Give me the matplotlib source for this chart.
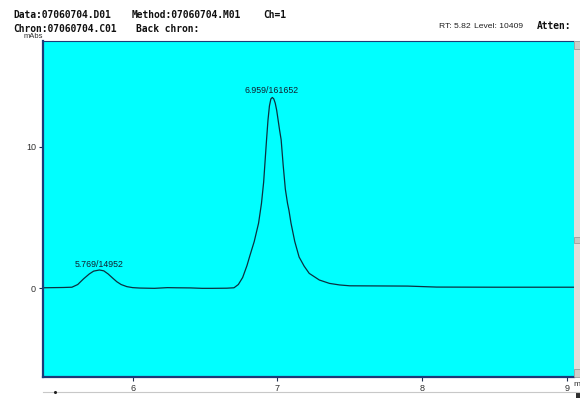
import matplotlib
matplotlib.use("Agg")
import matplotlib.pyplot as plt
from matplotlib.patches import Rectangle
from matplotlib.lines import Line2D

# ---- data ----
time_min = [5.38, 5.45, 5.52, 5.58, 5.62, 5.66, 5.70, 5.73, 5.77, 5.80, 5.83, 5.86,
            5.89, 5.92, 5.96, 6.00, 6.05, 6.15, 6.24, 6.30, 6.40, 6.48, 6.55, 6.65,
            6.70, 6.73, 6.76, 6.79, 6.81, 6.84, 6.87, 6.89, 6.905, 6.915, 6.925, 6.935,
            6.945, 6.955, 6.965, 6.975, 6.985, 6.995, 7.005, 7.015, 7.026, 7.04, 7.055,
            7.07, 7.08, 7.094, 7.12, 7.15, 7.185, 7.22, 7.29, 7.36,
            7.43, 7.50, 7.70, 7.90, 8.10, 8.50, 9.05]
signal_mabs = [0.02, 0.03, 0.04, 0.06, 0.25, 0.65, 1.00, 1.20, 1.28, 1.22, 1.00, 0.72,
               0.45, 0.25, 0.10, 0.03, 0.00, -0.02, 0.03, 0.02, 0.01, -0.02, -0.02, -0.01,
               0.02, 0.25, 0.75, 1.60, 2.30, 3.30, 4.60, 6.00, 7.50, 9.00, 10.5, 11.9,
               12.9, 13.4, 13.5, 13.4, 13.1, 12.6, 11.9, 11.2, 10.5, 8.70, 7.00,
               6.00, 5.50, 4.60, 3.30, 2.20, 1.55, 1.04, 0.57, 0.33,
               0.22, 0.16, 0.15, 0.14, 0.07, 0.06, 0.06]

peak_rt = [5.769, 6.959]
peak_label = ["5.769/14952", "6.959/161652"]
peak_label_y = [1.38, 13.65]

x_ticks = [6, 7, 8, 9]
y_ticks = [0, 10]

W, H = 580, 401
fig = plt.figure(figsize=(W / 100, H / 100), dpi=100)
fig.patch.set_facecolor("white")

ax = fig.add_axes([43 / W, 1 - 377 / H, (574 - 43) / W, (377 - 41) / H])
ax.set_facecolor("#00ffff")
ax.plot(time_min, signal_mabs, color="#0b3040", lw=0.9)
ax.set_xlim(5.38, 9.05)
ax.set_ylim(-6.3, 17.5)

for rt, lab, ly in zip(peak_rt, peak_label, peak_label_y):
    ax.text(rt, ly, lab, ha="center", va="bottom", fontsize=6.3,
            color="#102030", family="Liberation Sans")

ax.set_xticks(x_ticks)
ax.set_yticks(y_ticks)
ax.set_xticklabels([str(t) for t in x_ticks])
ax.set_yticklabels([str(t) for t in y_ticks])
ax.tick_params(axis="both", direction="out", length=3, width=0.8, color="#203050",
               labelsize=6.5, labelcolor="#303030", pad=2)
for lab in ax.get_xticklabels() + ax.get_yticklabels():
    lab.set_family("Liberation Sans")
for side in ["left", "bottom"]:
    ax.spines[side].set_color("#1d3a78")
    ax.spines[side].set_linewidth(1.6)
for side in ["top", "right"]:
    ax.spines[side].set_color("#1d3a78")
    ax.spines[side].set_linewidth(0.8)
ax.spines["right"].set_visible(False)

# header texts
mono = dict(family="DejaVu Sans Mono", fontweight="bold", fontsize=6.9, color="#101010",
            va="center", ha="left")
fig.text(13 / W, 1 - 15 / H, "Data:07060704.D01", **mono)
fig.text(131.5 / W, 1 - 15 / H, "Method:07060704.M01", **mono)
fig.text(263 / W, 1 - 15 / H, "Ch=1", **mono)
fig.text(13 / W, 1 - 29 / H, "Chron:07060704.C01", **mono)
fig.text(136.5 / W, 1 - 29 / H, "Back chron:", **mono)
fig.text(537 / W, 1 - 26 / H, "Atten:", **mono)

sans = dict(family="Liberation Sans", fontsize=6.1, color="#202020", va="center", ha="left")
fig.text(439 / W, 1 - 26 / H, "RT: 5.82", **sans)
fig.text(474 / W, 1 - 26 / H, "Level: 10409", **sans)
fig.text(43 / W, 1 - 36.5 / H, "mAbs", family="Liberation Sans", fontsize=5.5,
         color="#303030", va="center", ha="right")
fig.text(573 / W, 1 - 385 / H, "m", **dict(sans, fontsize=6.0, color="#303030"))

# right scrollbar
fig.patches.append(Rectangle((574 / W, 1 - 377 / H), 6 / W, (377 - 41) / H,
                             transform=fig.transFigure, facecolor="#e0ddd8",
                             edgecolor="none"))
fig.patches.append(Rectangle((574 / W, 1 - 243 / H), 6 / W, 6 / H,
                             transform=fig.transFigure, facecolor="#c8c5c0",
                             edgecolor="#909090", lw=0.5))
fig.patches.append(Rectangle((574 / W, 1 - 49 / H), 6 / W, 8 / H,
                             transform=fig.transFigure, facecolor="#d0cdc8",
                             edgecolor="#909090", lw=0.5))
fig.patches.append(Rectangle((574 / W, 1 - 377 / H), 6 / W, 8 / H,
                             transform=fig.transFigure, facecolor="#d0cdc8",
                             edgecolor="#909090", lw=0.5))
fig.patches.append(Rectangle((576 / W, 1 - 398 / H), 4 / W, 6 / H,
                             transform=fig.transFigure, facecolor="#303030",
                             edgecolor="none"))
# lower separator line
fig.lines.append(Line2D([43 / W, 1.0], [1 - 392 / H, 1 - 392 / H],
                        transform=fig.transFigure, color="#c8c8c8", lw=0.8))
fig.lines.append(Line2D([55 / W], [1 - 391.5 / H], transform=fig.transFigure,
                        marker="o", ms=1.2, color="#202020", lw=0))

fig.savefig("out.png", dpi=100, facecolor="white")
